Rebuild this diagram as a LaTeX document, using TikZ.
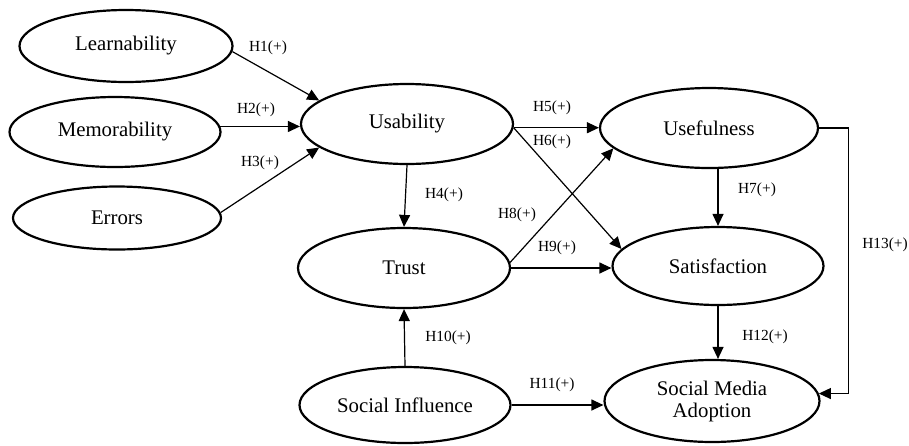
\documentclass[tikz,border=0pt]{standalone}
\usepackage{fontspec}
\setmainfont{Liberation Serif}
\usetikzlibrary{shapes.geometric,arrows.meta}

\begin{document}
\begin{tikzpicture}[x=0.5pt,y=-0.5pt,
  construct/.style={draw,ellipse,line width=1.1pt,inner sep=0pt,align=center,
    font=\fontsize{10.4}{11}\selectfont,minimum width=106pt,minimum height=40pt},
  link/.style={-{Triangle[length=6pt,width=5.5pt]},line width=0.6pt},
  hyp/.style={font=\fontsize{7.7}{9}\selectfont}]
  \useasboundingbox (0,0) rectangle (909,445);
  % Left: usability dimensions
  \node[construct,minimum width=106.5pt,minimum height=36pt] (learn) at (126,46) {Learnability};
  \node[construct,minimum width=105.5pt,minimum height=35pt] (memo) at (115,132) {Memorability};
  \node[construct,minimum width=104pt,minimum height=31.5pt] (errors) at (117,218) {Errors};
  % Middle column
  \node[construct] (usab) at (407,124) {Usability};
  \node[construct] (trust) at (404,268) {Trust};
  \node[construct,minimum width=105.5pt,minimum height=38pt] (socinf) at (405,405) {Social Influence};
  % Right column
  \node[construct,minimum width=109pt] (usef) at (709,128) {Usefulness};
  \node[construct,minimum width=105.5pt,minimum height=39pt] (satis) at (718,266) {Satisfaction};
  \node[construct,minimum width=107.5pt,minimum height=41pt] (sma) at (712,401) {Social Media\\Adoption};
  % Paths
  \draw[link] (learn.-3) -- (usab.165);
  \draw[link] (memo.3) -- (memo.3 -| usab.west);
  \draw[link] (errors.3) -- (usab.195);
  \draw[link] (usab.south) -- (trust.north);
  \draw[link] (usab.-2) -- (usab.-2 -| usef.west);
  \draw[link] (usab.-2) -- (satis.170);
  \draw[link] (usef.south -| satis.north) -- (satis.north);
  \draw[link] (trust.3) -- (usef.192);
  \draw[link] (trust.east) -- (trust.east -| satis.west);
  \draw[link] (socinf.north) -- (trust.south);
  \draw[link] (socinf.east) -- (socinf.east -| sma.west);
  \draw[link] (satis.south) -- (satis.south |- sma.north);
  \draw[link] (usef.east) -- ++(29,0) |- (sma.4);
  % Hypothesis labels
  \node[hyp] (h1) at (268,48) {H1(+)};
  \node[hyp] (h2) at (256,110) {H2(+)};
  \node[hyp] (h3) at (260,163) {H3(+)};
  \node[hyp] (h4) at (444,195) {H4(+)};
  \node[hyp] (h5) at (552,108) {H5(+)};
  \node[hyp] (h6) at (552,142) {H6(+)};
  \node[hyp] (h7) at (757,190) {H7(+)};
  \node[hyp] (h8) at (517,215) {H8(+)};
  \node[hyp] (h9) at (557,248) {H9(+)};
  \node[hyp] (h10) at (448,338) {H10(+)};
  \node[hyp] (h11) at (552,385) {H11(+)};
  \node[hyp] (h12) at (765,337) {H12(+)};
  \node[hyp] (h13) at (885,245) {H13(+)};
\end{tikzpicture}
\end{document}
